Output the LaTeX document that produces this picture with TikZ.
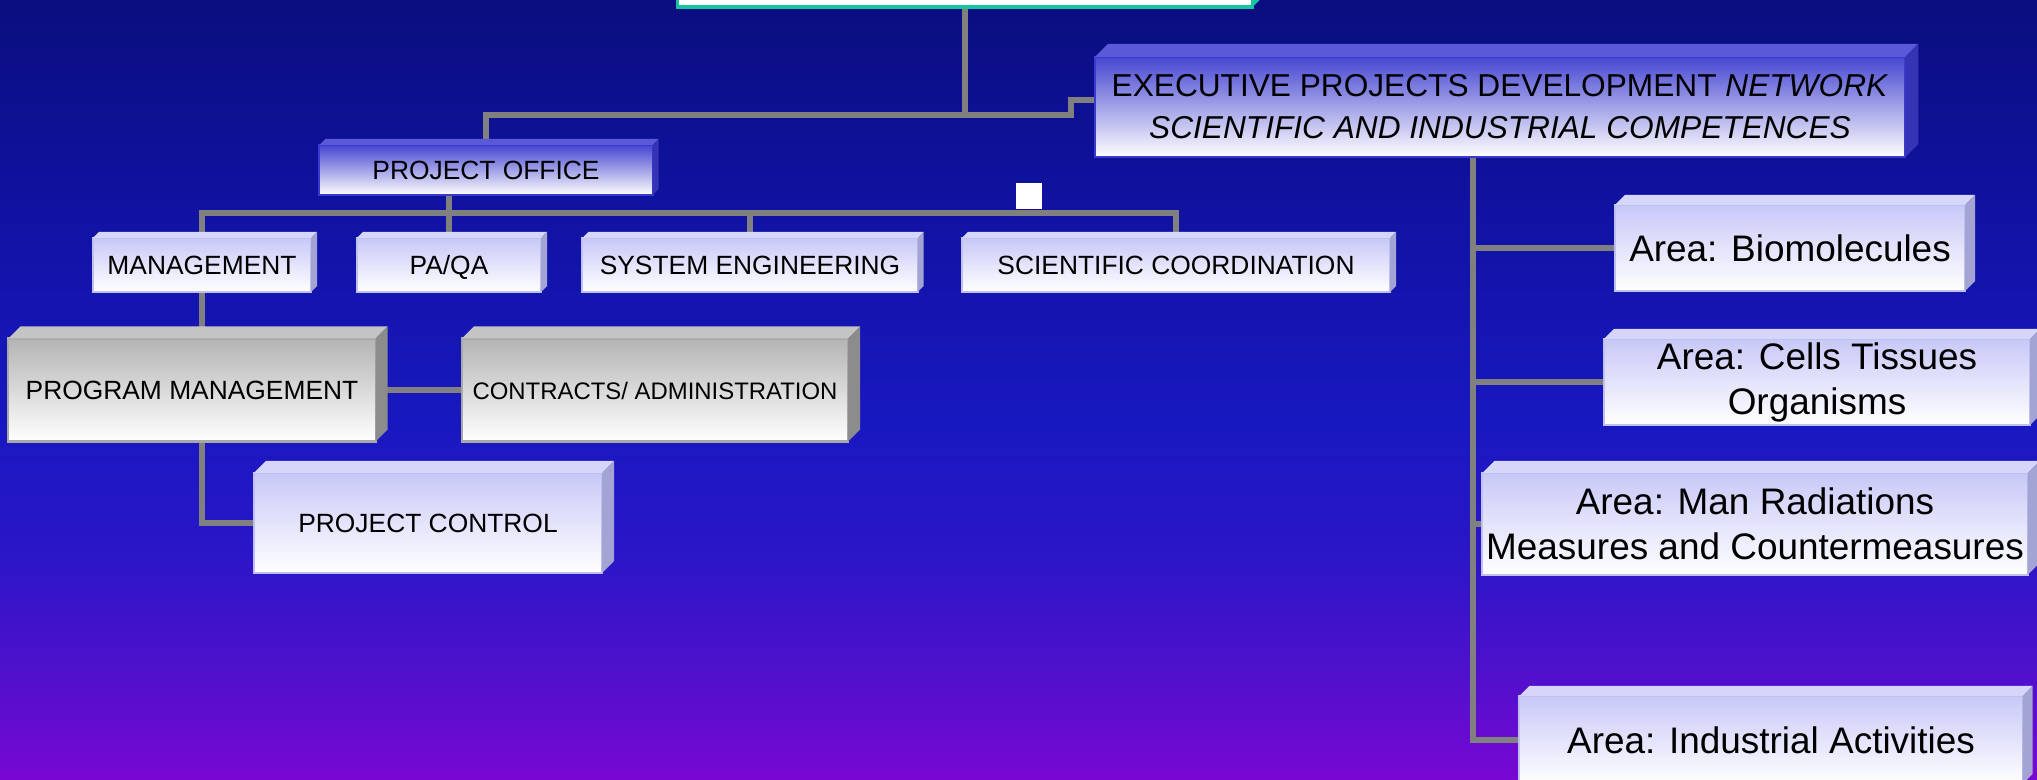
\documentclass[tikz,border=0pt]{standalone}
\usepackage{fontspec}
\setmainfont{Liberation Sans}
\usepackage{xcolor}
\usetikzlibrary{calc,backgrounds}

\definecolor{bgA}{HTML}{0A0E7E}
\definecolor{bgB}{HTML}{1012A0}
\definecolor{bgC}{HTML}{1818C0}
\definecolor{bgD}{HTML}{2C16C8}
\definecolor{bgE}{HTML}{5210CC}
\definecolor{bgF}{HTML}{7808D2}
\definecolor{lines}{HTML}{808080}
\definecolor{headrim}{HTML}{18C4A0}
\definecolor{frontblue}{HTML}{4646D2}
\definecolor{topblue}{HTML}{5A5AD8}
\definecolor{sideblue}{HTML}{3434B4}
\definecolor{rimblue}{HTML}{3A3AD0}
\definecolor{frontlav}{HTML}{C8C8F8}
\definecolor{toplav}{HTML}{D6D6FA}
\definecolor{sidelav}{HTML}{A4A4D4}
\definecolor{rimlav}{HTML}{C0C0F0}
\definecolor{frontgray}{HTML}{B4B4B4}
\definecolor{topgray}{HTML}{C4C4C4}
\definecolor{sidegray}{HTML}{8C8C8C}
\definecolor{rimgray}{HTML}{A8A8A8}

% backdrop: navy at the top, blue in the middle, violet at the bottom
\pgfdeclareverticalshading{backdrop}{100bp}{color(0bp)=(bgF); color(25bp)=(bgF); color(31.4bp)=(bgE);
  color(39bp)=(bgD); color(48bp)=(bgC); color(62.2bp)=(bgB); color(75bp)=(bgA); color(100bp)=(bgA)}

\tikzset{
  box/.style={inner sep=0pt, outer sep=0pt, align=center, text=black},
  bluebox/.style={box, draw=rimblue, line width=0.6pt, top color=frontblue, bottom color=white},
  lavbox/.style={box, draw=rimlav, line width=0.6pt, top color=frontlav, bottom color=white},
  graybox/.style={box, draw=rimgray, line width=0.6pt, top color=frontgray, bottom color=white},
  conn/.style={draw=lines, line width=1.65pt},
  small/.style={font=\fontsize{7.5}{9}\selectfont, text height=5.3pt, text depth=0pt},
  big/.style={font=\fontsize{10.5}{12.8}\selectfont},
}

\begin{document}
\begin{tikzpicture}[x=0.01cm,y=-0.01cm]

\useasboundingbox (0,0) rectangle (2037,779);
\clip (0,0) rectangle (2037,779);

\begin{scope}[on background layer]
\shade[shading=backdrop] (0,0) rectangle (2037,779);
\end{scope}

% head box, cut by the top edge
\node[box, draw=headrim, line width=1pt, fill=white, minimum width=5.75cm, minimum height=0.74cm] (head) at (965,-30) {};
\fill[headrim] (head.north east) -- ++(9,-9) -- ([shift={(9,-9)}]head.south east) -- (head.south east) -- cycle;

\node[bluebox, small, minimum width=3.33cm, minimum height=0.5cm] (office) at (486,170) {PROJECT OFFICE};
\node[bluebox, font=\fontsize{9}{12}\selectfont, minimum width=8.1cm, minimum height=1cm] (epd) at (1500,107)
  {EXECUTIVE PROJECTS DEVELOPMENT \textit{NETWORK}\\\textit{SCIENTIFIC AND INDUSTRIAL COMPETENCES}};

\node[lavbox, small, minimum width=2.18cm, minimum height=0.54cm] (mgmt) at (202,265) {MANAGEMENT};
\node[lavbox, small, minimum width=1.84cm, minimum height=0.54cm] (paqa) at (449,265) {PA/QA};
\node[lavbox, small, minimum width=3.35cm, minimum height=0.54cm] (syseng) at (750,265) {SYSTEM ENGINEERING};
\node[lavbox, small, minimum width=4.28cm, minimum height=0.54cm] (scicoord) at (1176,265) {SCIENTIFIC COORDINATION};

\node[graybox, small, minimum width=3.67cm, minimum height=1.03cm] (progmgmt) at (192,390) {PROGRAM MANAGEMENT};
\node[graybox, small, font=\fontsize{6.8}{8}\selectfont, minimum width=3.86cm, minimum height=1.03cm] (contracts) at (655,390) {CONTRACTS/ ADMINISTRATION};
\node[lavbox, small, minimum width=3.48cm, minimum height=1cm] (control) at (428,523) {PROJECT CONTROL};

\node[lavbox, big, minimum width=3.5cm, minimum height=0.86cm] (bio) at (1790,248) {Area: Biomolecules};
\node[lavbox, big, minimum width=4.26cm, minimum height=0.86cm] (cells) at (1817,382) {Area: Cells Tissues\\Organisms};
\node[lavbox, big, minimum width=5.45cm, minimum height=1.02cm] (man) at (1755,524) {Area: Man Radiations\\Measures and Countermeasures};
\node[lavbox, big, minimum width=5.03cm, minimum height=0.88cm] (ind) at (1771,740) {Area: Industrial Activities};

% bevels of the boxes
\foreach \n/\d/\c in {office/6/blue,epd/13/blue,mgmt/6/lav,paqa/6/lav,syseng/6/lav,scicoord/6/lav,
    progmgmt/12/gray,contracts/12/gray,control/12/lav,bio/10/lav,cells/10/lav,man/12/lav,ind/10/lav}{
  \fill[fill=top\c] (\n.north west) -- ++(\d,-\d) -- ([shift={(\d,-\d)}]\n.north east) -- (\n.north east) -- cycle; % top face
  \fill[fill=side\c] (\n.north east) -- ++(\d,-\d) -- ([shift={(\d,-\d)}]\n.south east) -- (\n.south east) -- cycle; % side face
}

\fill[white] (1016,183) rectangle (1042,209);

\begin{scope}[on background layer]
\coordinate (bus) at (486,213);
\coordinate (spine) at (1473,0);
\draw[conn] (head.south) -- ++(0,108) -| (office.north);
\draw[conn] (head.south) -- ++(0,108) -- ++(106,0) |- ([shift={(0,-7)}]epd.west);
\draw[conn] (office.south -| paqa.north) -- (paqa.north);
\draw[conn] (mgmt.north) |- (bus) -| (scicoord.north);
\draw[conn] (syseng.north) -- (syseng.north |- bus);
\draw[conn] (mgmt.south) -- (mgmt.south |- progmgmt.north);
\draw[conn] (mgmt.south |- progmgmt.south) |- (control.west);
\draw[conn] (progmgmt.east) -- (contracts.west);
\draw[conn] (epd.south -| spine) |- (ind.west);
\foreach \n in {bio,cells,man}
  \draw[conn] (\n.west -| spine) -- (\n.west);
\end{scope}

\end{tikzpicture}
\end{document}
